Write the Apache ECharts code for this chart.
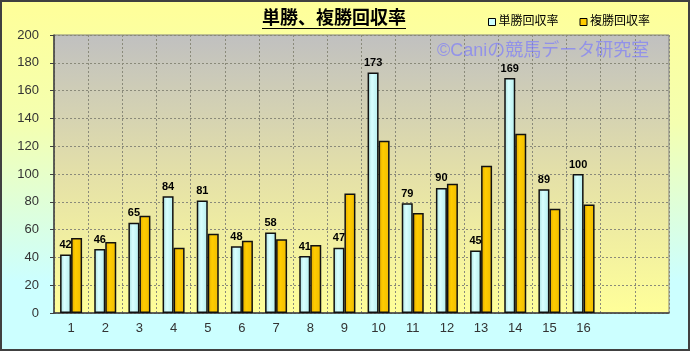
<!DOCTYPE html>
<html>
<head>
<meta charset="utf-8">
<script src="https://cdn.jsdelivr.net/npm/echarts@6/dist/echarts.min.js"></script>
<style>
  html, body { margin: 0; padding: 0; }
  #chart {
    width: 690px;
    height: 351px;
    background: linear-gradient(to bottom, #ffff99 0%, #f4ffb0 35%, #ccffff 80%, #ccffff 100%);
  }
</style>
</head>
<body>
<div id="chart"></div>
<script>
// 枠番・馬番ごとの回収率
const categories = ['1', '2', '3', '4', '5', '6', '7', '8', '9', '10', '11', '12', '13', '14', '15', '16', '', '']
const tanshoRate = [42, 46, 65, 84, 81, 48, 58, 41, 47, 173, 79, 90, 45, 169, 89, 100, null, null]
const fukushoRate = [54, 51, 70, 47, 57, 52, 53, 49, 86, 124, 72, 93, 106, 129, 75, 78, null, null]
const seriesNames = ['単勝回収率', '複勝回収率']

const chart = echarts.init(document.getElementById('chart'))
const G = echarts.graphic

const jpFont = '"Liberation Sans", "Noto Sans CJK JP", sans-serif'

const option = {
  backgroundColor: 'transparent',
  animation: false,
  textStyle: { fontFamily: jpFont },
  title: {
    text: '単勝、複勝回収率',
    left: 262,
    top: 10,
    padding: 0,
    textStyle: { fontSize: 18, fontWeight: 'bold', color: '#000', fontFamily: jpFont },
  },
  legend: {
    left: 488,
    top: 16,
    padding: 0,
    icon: 'rect',
    itemWidth: 7,
    itemHeight: 7,
    itemGap: 21,
    textStyle: { fontSize: 12, color: '#000', padding: [0, 0, 0, -2] },
    data: [
      { name: seriesNames[0], itemStyle: { color: '#ccffff', borderColor: '#000', borderWidth: 1 } },
      { name: seriesNames[1], itemStyle: { color: '#ffcc00', borderColor: '#000', borderWidth: 1 } },
    ],
  },
  grid: {
    left: 54,
    right: 21,
    top: 35,
    bottom: 38,
    show: true,
    borderColor: '#808080',
    borderWidth: 1,
    backgroundColor: new G.LinearGradient(0, 0, 0, 1, [
      { offset: 0, color: '#c0c0c0' },
      { offset: 0.5, color: '#e4e0a8' },
      { offset: 1, color: '#ffff99' },
    ]),
  },
  xAxis: {
    type: 'category',
    data: categories,
    axisLine: { lineStyle: { color: '#404040', width: 1.5 } },
    axisTick: { show: false },
    axisLabel: { color: '#333', fontSize: 13, margin: 9 },
    splitLine: { show: true, interval: 0, lineStyle: { color: '#8a8a7a', type: [2, 2], width: 1 } },
  },
  yAxis: {
    type: 'value',
    min: 0,
    max: 200,
    interval: 20,
    axisLine: { show: true, lineStyle: { color: '#404040', width: 1.5 } },
    axisTick: { show: true, length: 4, lineStyle: { color: '#404040' } },
    axisLabel: { color: '#333', fontSize: 13, margin: 15 },
    splitLine: { lineStyle: { color: '#8a8a7a', type: [2, 2], width: 1 } },
  },
  series: [
    {
      name: seriesNames[0],
      type: 'bar',
      data: tanshoRate,
      barWidth: 11,
      barGap: '0%',
      itemStyle: {
        color: new G.LinearGradient(0, 0, 1, 0, [
          { offset: 0, color: '#a8dede' },
          { offset: 0.4, color: '#d8ffff' },
          { offset: 1, color: '#b4ecec' },
        ]),
        borderColor: '#111',
        borderWidth: 1.5,
      },
      label: {
        show: true,
        position: 'top',
        distance: 4,
        fontSize: 11,
        fontWeight: 'bold',
        color: '#000',
        fontFamily: '"Liberation Sans", sans-serif',
      },
    },
    {
      name: seriesNames[1],
      type: 'bar',
      data: fukushoRate,
      barWidth: 11,
      itemStyle: {
        color: new G.LinearGradient(0, 0, 1, 0, [
          { offset: 0, color: '#e0a800' },
          { offset: 0.4, color: '#ffcc00' },
          { offset: 1, color: '#f0bc00' },
        ]),
        borderColor: '#111',
        borderWidth: 1.5,
      },
    },
  ],
  graphic: [
    // タイトル下線
    { type: 'line', shape: { x1: 262, y1: 28.5, x2: 406, y2: 28.5 }, style: { stroke: '#000', lineWidth: 1 }, z: 100 },
    // 透かし
    {
      type: 'text',
      left: 437,
      top: 42,
      z: 100,
      style: {
        text: '©Caniの競馬データ研究室',
        fill: 'rgba(120, 120, 255, 0.65)',
        font: '18px "Liberation Sans", "Noto Sans CJK JP", sans-serif',
      },
    },
    // 外枠
    {
      type: 'rect',
      shape: { x: 1, y: 1, width: 688, height: 349 },
      style: { fill: 'none', stroke: '#404040', lineWidth: 2 },
      z: 100,
    },
  ],
}

chart.setOption(option)

window.addEventListener('resize', () => {
  chart.resize()
})
</script>
</body>
</html>
